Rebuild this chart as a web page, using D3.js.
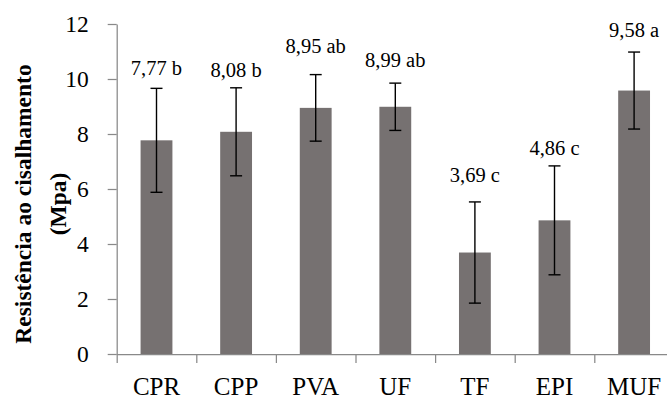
<!DOCTYPE html>
<meta charset="utf-8">
<script src="https://d3js.org/d3.v7.min.js"></script>
<style type="text/css">
    body {
        margin: 0;
        padding: 0;
        background: #FFF;
    }

    svg {
        display: block;
        background-color: #FFF;
    }

    .axis path, .axis line {
        fill: none;
        stroke: #898989;
        stroke-width: 1.25;
    }

    .axis text {
        fill: #000;
    }

    .bar {
        fill: #767171;
    }

    .err {
        stroke: #000;
        stroke-width: 1.4;
    }

    .lbl {
        font-size: 20.5px;
        fill: #000;
        text-anchor: middle;
    }

    .title {
        font-size: 23.5px;
        font-weight: bold;
        fill: #000;
        text-anchor: middle;
    }
</style>

<body>
</body>

<script>

var categories = ["CPR", "CPP", "PVA", "UF", "TF", "EPI", "MUF"];
var means = [7.77, 8.08, 8.95, 8.99, 3.69, 4.86, 9.58];
var errors = [1.89, 1.60, 1.21, 0.86, 1.84, 1.98, 1.40];
var labels = ["7,77 b", "8,08 b", "8,95 ab", "8,99 ab", "3,69 c", "4,86 c", "9,58 a"];
// height (in MPa units) where each mean label sits, as placed in the original
var labelAt = [10.15, 10.08, 10.95, 10.45, 6.27, 7.24, 11.54];
var yTicks = [0, 2, 4, 6, 8, 10, 12];

var serif = "'Liberation Serif', 'DejaVu Serif', serif";

var width = 667;
var height = 400;
var marginLeft = 116.7, marginTop = 24;
var plotW = 7 * 79.6;
var plotH = 330;

var svg = d3.select("body")
    .append("svg")
    .attr("width", width)
    .attr("height", height)
    .attr("font-family", serif);

var g = svg.append("g")
    .attr("transform", "translate(" + marginLeft + "," + marginTop + ")");

var x = d3.scaleBand()
    .domain(categories)
    .range([0, plotW])
    .padding(0);

var xb = d3.scaleLinear()
    .domain([0, categories.length])
    .range([0, plotW]);

var y = d3.scaleLinear()
    .domain([0, 12])
    .range([plotH, 0]);

var barW = x.bandwidth() * 0.4;

// y axis
var yAxis = d3.axisLeft(y)
    .tickValues(yTicks)
    .tickSize(9)
    .tickSizeOuter(0)
    .tickPadding(19);

g.append("g")
    .attr("class", "y axis")
    .call(yAxis)
    .attr("font-family", serif)
    .attr("font-size", 23.5);

// x axis: boundary ticks
var xTickAxis = d3.axisBottom(xb)
    .tickValues(d3.range(categories.length + 1))
    .tickSize(9)
    .tickSizeOuter(0)
    .tickFormat("");

g.append("g")
    .attr("class", "x axis")
    .attr("transform", "translate(0," + plotH + ")")
    .call(xTickAxis);

// x axis: category labels
var xLabelAxis = d3.axisBottom(x)
    .tickSize(0)
    .tickPadding(23);

var xl = g.append("g")
    .attr("class", "x axis")
    .attr("transform", "translate(0," + plotH + ")")
    .call(xLabelAxis)
    .attr("font-family", serif)
    .attr("font-size", 25);
xl.select(".domain").remove();

// bars
g.selectAll(".bar")
    .data(categories)
    .enter().append("rect")
    .attr("class", "bar")
    .attr("x", function (d) { return x(d) + (x.bandwidth() - barW) / 2; })
    .attr("width", barW)
    .attr("y", function (d, i) { return y(means[i]); })
    .attr("height", function (d, i) { return plotH - y(means[i]); });

// error bars
var eb = g.selectAll(".errg")
    .data(categories)
    .enter().append("g")
    .attr("class", "errg")
    .attr("transform", function (d) { return "translate(" + (x(d) + x.bandwidth() / 2) + ",0)"; });

eb.append("line")
    .attr("class", "err")
    .attr("x1", 0).attr("x2", 0)
    .attr("y1", function (d, i) { return y(means[i] - errors[i]); })
    .attr("y2", function (d, i) { return y(means[i] + errors[i]); });

eb.append("line")
    .attr("class", "err")
    .attr("x1", -6).attr("x2", 6)
    .attr("y1", function (d, i) { return y(means[i] + errors[i]); })
    .attr("y2", function (d, i) { return y(means[i] + errors[i]); });

eb.append("line")
    .attr("class", "err")
    .attr("x1", -6).attr("x2", 6)
    .attr("y1", function (d, i) { return y(means[i] - errors[i]); })
    .attr("y2", function (d, i) { return y(means[i] - errors[i]); });

// value labels
g.selectAll(".lbl")
    .data(categories)
    .enter().append("text")
    .attr("class", "lbl")
    .attr("x", function (d) { return x(d) + x.bandwidth() / 2; })
    .attr("y", function (d, i) { return y(labelAt[i]); })
    .text(function (d, i) { return labels[i]; });

// y title
var t = svg.append("text")
    .attr("class", "title")
    .attr("transform", "translate(0,204) rotate(-90)");
t.append("tspan").attr("x", 0).attr("y", 31).text("Resistência ao cisalhamento");
t.append("tspan").attr("x", 0).attr("y", 66).text("(Mpa)");

</script>
